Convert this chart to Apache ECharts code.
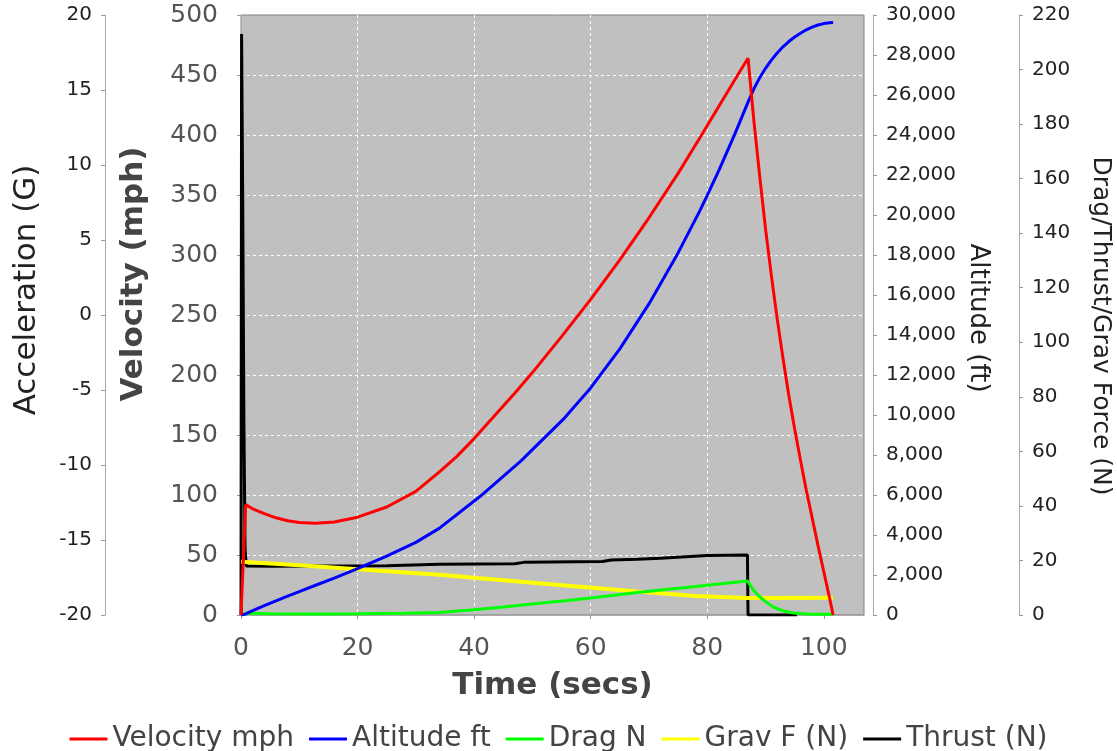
<!DOCTYPE html>
<html><head><meta charset="utf-8">
<script src="https://cdn.jsdelivr.net/npm/echarts@6/dist/echarts.min.js"></script>
<style>html,body{margin:0;padding:0;background:#fff}#c{width:1117px;height:751px}</style>
</head><body><div id="c"></div>
<script>
// ---- data ----
const velTime = [0, 0.8, 2, 4, 6, 8, 10, 12.8, 16, 20, 25, 30, 34, 37, 40, 43.5, 47, 50, 55, 60, 65, 70, 75, 78.9, 82, 85.1, 87, 88, 89, 90, 91, 92, 93, 94, 95, 96, 97, 98, 99, 100, 101, 101.6];
const velMph  = [0, 92, 88.5, 84.5, 81, 78.5, 77, 76.4, 77.5, 81.5, 90, 103, 119, 132, 147, 166, 185, 202, 232, 263, 296, 331, 368, 399, 424, 449, 464, 412, 366, 322, 283, 247, 214, 183, 155, 129, 104, 81, 58, 36, 14, 0];

const altTime = [0, 0.8, 2, 4, 6, 8, 10, 12.8, 16, 20, 25, 30, 34, 41, 48, 55.5, 60, 65, 70, 75, 78.7, 79.9, 82, 84.75, 87, 88, 88.9, 90, 91, 92, 93, 94, 95, 96, 97, 98, 99, 100, 101, 101.6];
const altFt   = [0, 54, 213, 467, 710, 944, 1172, 1487, 1848, 2314, 2943, 3630, 4330, 5923, 7691, 9847, 11355, 13305, 15555, 18105, 20196, 20916, 22229, 24058, 25644, 26304, 26808, 27336, 27746, 28101, 28408, 28673, 28899, 29089, 29260, 29395, 29500, 29570, 29610, 29620];

const dragTime = [0, 0.8, 5, 13, 20, 28, 34, 40, 45, 51.2, 56, 60, 64, 68.4, 72, 76, 80, 84, 86.9, 87.9, 89, 90, 91.3, 92, 93, 94, 95.4, 97, 99, 101.6];
const dragN    = [0, 0.6, 0.5, 0.4, 0.45, 0.6, 0.9, 1.9, 2.9, 4.3, 5.3, 6.2, 7.2, 8.3, 9.2, 10.0, 10.9, 11.8, 12.5, 9.2, 6.7, 4.9, 3.0, 2.3, 1.6, 1.0, 0.6, 0.4, 0.3, 0.25];

const gravTime = [0, 10, 20, 34, 51, 68, 78, 86.9, 87, 101.6];
const gravN    = [19.5, 18.2, 16.8, 14.8, 11.6, 8.6, 7.0, 6.2, 6.3, 6.3];

const thrustTime = [0, 0.1, 0.3, 0.5, 0.7, 0.9, 5, 15, 25, 34, 47, 48.5, 62, 63.5, 68, 72, 80, 86.9, 87.0, 95.4];
const thrustN    = [0, 213, 150, 70, 24, 18, 17.9, 18.0, 18.1, 18.6, 18.8, 19.3, 19.6, 20.2, 20.4, 20.8, 21.8, 22.0, 0, 0];

const xTicks = [0, 20, 40, 60, 80, 100];
const seriesNames = ['Velocity mph', 'Altitude ft', 'Drag N', 'Grav F (N)', 'Thrust (N)'];
const seriesColors = ['#ff0000', '#0000ff', '#00ff00', '#ffff00', '#000000'];

// ---- chart ----
const F = '"DejaVu Sans"';
const pairs = (xs, ys) => xs.map((x, i) => [x, ys[i]]);
const chart = echarts.init(document.getElementById('c'), null, {renderer: 'canvas'});
const dashed = {show: true, showMinLine: false, showMaxLine: false, lineStyle: {color: '#ffffff', type: [3, 3], width: 1}};
const greyLine = {show: true, lineStyle: {color: '#aaaaaa', width: 1}};
const tick = {show: true, length: 4, lineStyle: {color: '#999999'}};
const vTitle = (text, x, y, rot, font, fill) => ({
  type: 'text', x: x, y: y, rotation: rot, silent: true,
  style: {text: text, font: font, fill: fill, align: 'center', verticalAlign: 'middle'}
});

const option = {
  animation: false,
  backgroundColor: '#ffffff',
  grid: {left: 241, top: 15, width: 623, height: 600, show: true, backgroundColor: '#c0c0c0', borderColor: '#808080', borderWidth: 1},
  legend: {
    data: seriesNames, top: 720, left: 'center', icon: 'rect', itemWidth: 38, itemHeight: 3, itemGap: 15,
    textStyle: {fontFamily: 'DejaVu Sans', fontSize: 28, color: '#444444'}
  },
  graphic: [
    vTitle('Acceleration (G)', 27, 290, Math.PI / 2, '31px ' + F, '#222222'),
    vTitle('Velocity (mph)', 134, 274, Math.PI / 2, 'bold 31px ' + F, '#444444'),
    vTitle('Altitude (ft)', 978, 318, -Math.PI / 2, '26px ' + F, '#222222'),
    vTitle('Drag/Thrust/Grav Force (N)', 1100, 326, -Math.PI / 2, '25px ' + F, '#222222')
  ],
  xAxis: {
    type: 'value', min: 0, max: 106.9, position: 'bottom', offset: 9,
    name: 'Time (secs)', nameLocation: 'middle', nameGap: 46,
    nameTextStyle: {fontFamily: 'DejaVu Sans', fontWeight: 'bold', fontSize: 31, color: '#444444'},
    axisLine: greyLine, axisTick: Object.assign({customValues: xTicks}, tick),
    axisLabel: {customValues: xTicks, margin: 12, fontFamily: 'DejaVu Sans', fontSize: 25, color: '#555555'},
    splitLine: dashed
  },
  yAxis: [
    {
      type: 'value', min: 0, max: 500, interval: 50, position: 'left', offset: 9,
      axisLine: greyLine, axisTick: tick,
      axisLabel: {margin: 14, fontFamily: 'DejaVu Sans', fontSize: 25, color: '#555555'},
      splitLine: dashed
    },
    {
      type: 'value', min: -20, max: 20, interval: 5, position: 'left', offset: 136,
      axisLine: greyLine, axisTick: tick,
      axisLabel: {margin: 13, fontFamily: 'DejaVu Sans', fontSize: 20, color: '#222222'},
      splitLine: {show: false}
    },
    {
      type: 'value', min: 0, max: 30000, interval: 2000, position: 'right', offset: 9,
      axisLine: greyLine, axisTick: tick,
      axisLabel: {margin: 13, fontFamily: 'DejaVu Sans', fontSize: 20, color: '#222222', formatter: v => v.toLocaleString('en-US')},
      splitLine: {show: false}
    },
    {
      type: 'value', min: 0, max: 220, interval: 20, position: 'right', offset: 155,
      axisLine: greyLine, axisTick: tick,
      axisLabel: {margin: 13, fontFamily: 'DejaVu Sans', fontSize: 20, color: '#222222'},
      splitLine: {show: false}
    }
  ],
  series: [
    {name: seriesNames[4], type: 'line', yAxisIndex: 3, data: pairs(thrustTime, thrustN), showSymbol: false, lineStyle: {width: 3, color: seriesColors[4]}, itemStyle: {color: seriesColors[4]}},
    {name: seriesNames[3], type: 'line', yAxisIndex: 3, data: pairs(gravTime, gravN), showSymbol: false, lineStyle: {width: 4, color: seriesColors[3]}, itemStyle: {color: seriesColors[3]}},
    {name: seriesNames[2], type: 'line', yAxisIndex: 3, data: pairs(dragTime, dragN), showSymbol: false, lineStyle: {width: 3, color: seriesColors[2]}, itemStyle: {color: seriesColors[2]}},
    {name: seriesNames[1], type: 'line', yAxisIndex: 2, data: pairs(altTime, altFt), showSymbol: false, lineStyle: {width: 3, color: seriesColors[1]}, itemStyle: {color: seriesColors[1]}},
    {name: seriesNames[0], type: 'line', yAxisIndex: 0, data: pairs(velTime, velMph), showSymbol: false, lineStyle: {width: 3, color: seriesColors[0]}, itemStyle: {color: seriesColors[0]}}
  ]
};
chart.setOption(option);
</script>
</body></html>
